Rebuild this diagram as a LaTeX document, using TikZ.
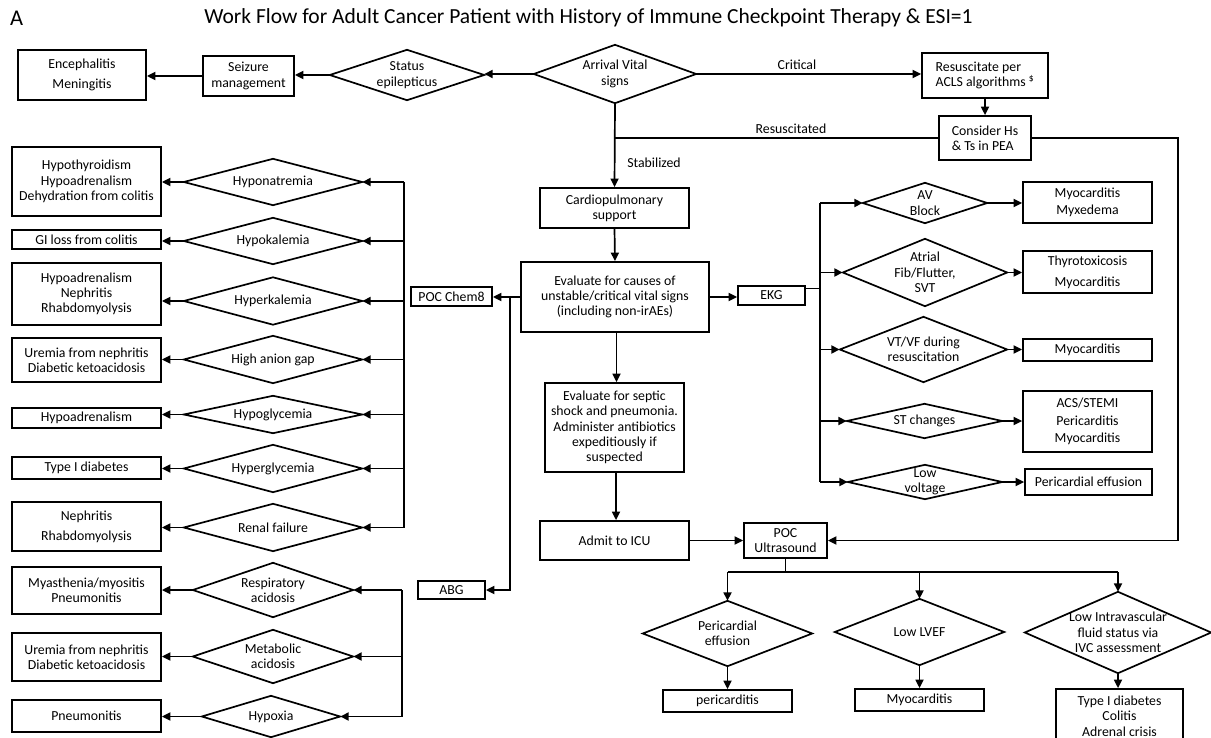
\documentclass[tikz,border=0pt]{standalone}
\usepackage{fontspec}
\setmainfont{Carlito}
\usetikzlibrary{arrows.meta}
% outline of a decision node: a diamond through the four side anchors
\newcommand\drawdia[1]{\draw[ln, line join=miter] (#1.north) -- (#1.east) -- (#1.south) -- (#1.west) -- cycle;}
\begin{document}
\begin{tikzpicture}[x=1pt,y=-1pt,
  every node/.style={font=\fontsize{13.8}{15.3}\selectfont, align=center, inner sep=0pt},
  box/.style={draw, line width=1.8pt},
  ln/.style={line width=1.7pt},
  arr/.style={line width=1.7pt, -{Triangle[length=8.5pt,width=8pt]}},
  bigtxt/.style={font=\fontsize{21.5}{24}\selectfont},
]
\useasboundingbox (0,0) rectangle (1211,738);
\clip (0,0) rectangle (1211,738);

% ---------- headings ----------
\node[font=\fontsize{22.5}{26}\selectfont, anchor=west] (panel) at (10,18.5) {A};
\node[bigtxt] (title) at (588.5,18) {Work Flow for Adult Cancer Patient with History of Immune Checkpoint Therapy \& ESI=1};

% ---------- top row ----------
\node[box, minimum width=128pt, minimum height=50pt] (enceph) at (82,75) {Encephalitis\\[5pt]Meningitis};
\node[box, minimum width=91pt, minimum height=40pt] (seizure) at (248.5,76) {Seizure\\management};
\node[minimum width=154pt, minimum height=50pt] (status) at (407,75) {Status\\epilepticus};
\node[minimum width=162pt, minimum height=58pt] (arrival) at (615,74) {Arrival Vital\\signs};
\node[box, minimum width=126pt, minimum height=45pt, align=left] (resus) at (985,75.5) {Resuscitate per\\ACLS algorithms \textsuperscript{\$}};
\node[box, minimum width=92pt, minimum height=44pt, align=left] (consider) at (985,138) {Consider Hs\\\& Ts in PEA};
\node (lblcrit) at (797,65) {Critical};
\node (lblres) at (791,129) {Resuscitated};
\node (lblstab) at (654,163) {Stabilized};

% ---------- centre column ----------
\node[box, minimum width=149pt, minimum height=40pt] (cardio) at (614.5,208) {Cardiopulmonary\\support};
\node[box, minimum width=188pt, minimum height=70pt] (eval) at (615,297) {Evaluate for causes of\\unstable/critical vital signs\\(including non-irAEs)};
\node[box, minimum width=81pt, minimum height=19pt] (chem) at (451.5,296.5) {POC Chem8};
\node[box, minimum width=67pt, minimum height=18pt] (abg) at (451.5,590) {ABG};
\node[box, minimum width=67pt, minimum height=19pt] (ekg) at (771.5,295.5) {EKG};
\node[box, minimum width=139pt, minimum height=89pt] (septic) at (614.5,427.5) {Evaluate for septic\\shock and pneumonia.\\Administer antibiotics\\expeditiously if\\suspected};
\node[box, minimum width=149pt, minimum height=39pt] (admit) at (614.5,540.5) {Admit to ICU};
\node[box, minimum width=83pt, minimum height=35pt] (poc) at (785.5,540.5) {POC\\Ultrasound};

% ---------- EKG findings ----------
\node[minimum width=124pt, minimum height=40pt] (av) at (925,203) {AV\\Block};
\node[minimum width=164pt, minimum height=67pt] (af) at (925,272.5) {Atrial\\Fib/Flutter,\\SVT};
\node[minimum width=167pt, minimum height=65pt] (vt) at (923.5,349.5) {VT/VF during\\resuscitation};
\node[minimum width=155pt, minimum height=34pt] (st) at (924.5,421) {ST changes};
\node[minimum width=154pt, minimum height=34pt] (lowv) at (925,482) {Low\\voltage};
\node[box, minimum width=129pt, minimum height=41pt] (rav) at (1087.5,202.5) {Myocarditis\\[2pt]Myxedema};
\node[box, minimum width=129pt, minimum height=42pt] (raf) at (1087.5,272) {Thyrotoxicosis\\[6pt]Myocarditis};
\node[box, minimum width=129pt, minimum height=22pt] (rvt) at (1087.5,350) {Myocarditis};
\node[box, minimum width=129pt, minimum height=61pt] (rst) at (1087.5,421.5) {ACS/STEMI\\[2pt]Pericarditis\\[2pt]Myocarditis};
\node[box, minimum width=127pt, minimum height=26pt] (rlowv) at (1088.5,482) {Pericardial effusion};

% ---------- ultrasound findings ----------
\node[minimum width=169pt, minimum height=65pt] (peri) at (727.5,633.5) {Pericardial\\effusion};
\node[minimum width=169pt, minimum height=66pt] (lvef) at (919.5,632) {Low LVEF};
\node[minimum width=186pt, minimum height=81pt] (ivc) at (1118,632.5) {Low Intravascular\\fluid status via\\IVC assessment};
\node[box, minimum width=129pt, minimum height=22pt] (rperi) at (727.5,701) {pericarditis};
\node[box, minimum width=129pt, minimum height=22pt] (rlvef) at (919.5,700) {Myocarditis};
\node[box, minimum width=127pt, minimum height=54pt] (rivc) at (1119.5,716) {Type I diabetes\\Colitis\\Adrenal crisis};

% ---------- chemistry findings ----------
\node[minimum width=178pt, minimum height=46pt] (hna) at (273,182) {Hyponatremia};
\node[minimum width=178pt, minimum height=46pt] (hk) at (273,241) {Hypokalemia};
\node[minimum width=178pt, minimum height=47pt] (hyk) at (273,301) {Hyperkalemia};
\node[minimum width=178pt, minimum height=47pt] (hag) at (273,359.5) {High anion gap};
\node[minimum width=178pt, minimum height=37pt] (hgl) at (273,414.5) {Hypoglycemia};
\node[minimum width=178pt, minimum height=47pt] (hyg) at (273,468.5) {Hyperglycemia};
\node[minimum width=178pt, minimum height=47pt] (renal) at (273,527.5) {Renal failure};
\node[box, minimum width=149pt, minimum height=69pt] (bhna) at (86.5,181.5) {Hypothyroidism\\Hypoadrenalism\\Dehydration from colitis};
\node[box, minimum width=149pt, minimum height=19pt] (bhk) at (86.5,239.5) {GI loss from colitis};
\node[box, minimum width=149pt, minimum height=62pt] (bhyk) at (86.5,294) {Hypoadrenalism\\Nephritis\\Rhabdomyolysis};
\node[box, minimum width=149pt, minimum height=44pt] (bhag) at (86.5,360) {Uremia from nephritis\\Diabetic ketoacidosis};
\node[box, minimum width=149pt, minimum height=20pt] (bhgl) at (86.5,418) {Hypoadrenalism};
\node[box, minimum width=149pt, minimum height=22pt] (bhyg) at (86.5,468) {Type I diabetes};
\node[box, minimum width=149pt, minimum height=49pt] (brenal) at (86.5,526.5) {Nephritis\\[5pt]Rhabdomyolysis};

% ---------- blood gas findings ----------
\node[minimum width=160pt, minimum height=54pt] (resp) at (273,590) {Respiratory\\acidosis};
\node[minimum width=160pt, minimum height=53pt] (meta) at (273,656.5) {Metabolic\\acidosis};
\node[minimum width=138pt, minimum height=41pt] (hypox) at (271,716.5) {Hypoxia};
\node[box, minimum width=149pt, minimum height=47pt] (bresp) at (86.5,590.5) {Myasthenia/myositis\\Pneumonitis};
\node[box, minimum width=149pt, minimum height=48pt] (bmeta) at (86.5,657) {Uremia from nephritis\\Diabetic ketoacidosis};
\node[box, minimum width=149pt, minimum height=32pt] (bhypox) at (86.5,716) {Pneumonitis};

% diamond outlines
\foreach \d in {status,arrival,av,af,vt,st,lowv,peri,lvef,ivc,hna,hk,hyk,hag,hgl,hyg,renal,resp,meta,hypox}
  {\drawdia{\d}}

% ---------- connectors: top ----------
\draw[arr] (arrival.west) -- (arrival.west -| status.east);
\draw[arr] (status.west) -- (status.west -| seizure.east);
\draw[arr] (seizure.west) -- (seizure.west -| enceph.east);
\draw[arr] (arrival.east) -- (arrival.east -| resus.west);
\draw[arr] (resus.south) -- (consider.north);
\draw[arr] (arrival.south) -- (cardio.north);
\coordinate (jres) at (arrival.south |- consider.west);
\draw[ln] (consider.west) -- (jres);
\coordinate (rtop) at (1178,138);
\draw[arr] (consider.east) -- (rtop) |- (poc.east);

% ---------- connectors: centre ----------
\draw[arr] (cardio.south) -- (eval.north);
\draw[arr] (eval.west) -- (eval.west -| chem.east);
\coordinate (jabg) at (510,297);
\draw[arr] (jabg) |- (abg.east);
\draw[arr] (eval.east) -- (eval.east -| ekg.west);
\draw[arr] ([xshift=1.5pt]eval.south) -- ([xshift=1.5pt]eval.south |- septic.north);
\draw[arr] ([xshift=1.5pt]septic.south) -- ([xshift=1.5pt]septic.south |- admit.north);
\draw[arr] (admit.east) -- (admit.east -| poc.west);

% ---------- connectors: EKG ----------
\coordinate (ekgbus) at (820,0);
\draw[ln] ([yshift=7pt]ekg.east) -- ([yshift=7pt]ekg.east -| ekgbus);
\draw[ln] (ekgbus |- av.west) -- (ekgbus |- lowv.west);
\foreach \d/\b in {av/rav,af/raf,vt/rvt,st/rst,lowv/rlowv} {
  \draw[arr] (ekgbus |- \d.west) -- (\d.west);
  \draw[arr] (\d.east) -- (\d.east -| \b.west);
}

% ---------- connectors: ultrasound ----------
\coordinate (usbar) at (0,572);
\draw[ln] (poc.south) -- (poc.south |- usbar);
\draw[ln] (peri.north |- usbar) -- (ivc.north |- usbar);
\foreach \d/\b in {peri/rperi,lvef/rlvef,ivc/rivc} {
  \draw[arr] (\d.north |- usbar) -- (\d.north);
  \draw[arr] (\d.south) -- (\d.south |- \b.north);
}

% ---------- connectors: chemistry ----------
\coordinate (chembus) at (404,0);
\draw[ln] (chembus |- hna.east) -- (chembus |- renal.east);
\foreach \d/\b in {hna/bhna,hk/bhk,hyk/bhyk,hag/bhag,hgl/bhgl,hyg/bhyg,renal/brenal} {
  \draw[arr] (chembus |- \d.east) -- (\d.east);
  \draw[arr] (\d.west) -- (\d.west -| \b.east);
}

% ---------- connectors: blood gas ----------
\coordinate (abgbus) at (402,0);
\draw[ln] (abgbus |- resp.east) -- (abgbus |- hypox.east);
\foreach \d/\b in {resp/bresp,meta/bmeta,hypox/bhypox} {
  \draw[arr] (abgbus |- \d.east) -- (\d.east);
  \draw[arr] (\d.west) -- (\d.west -| \b.east);
}
\end{tikzpicture}
\end{document}
